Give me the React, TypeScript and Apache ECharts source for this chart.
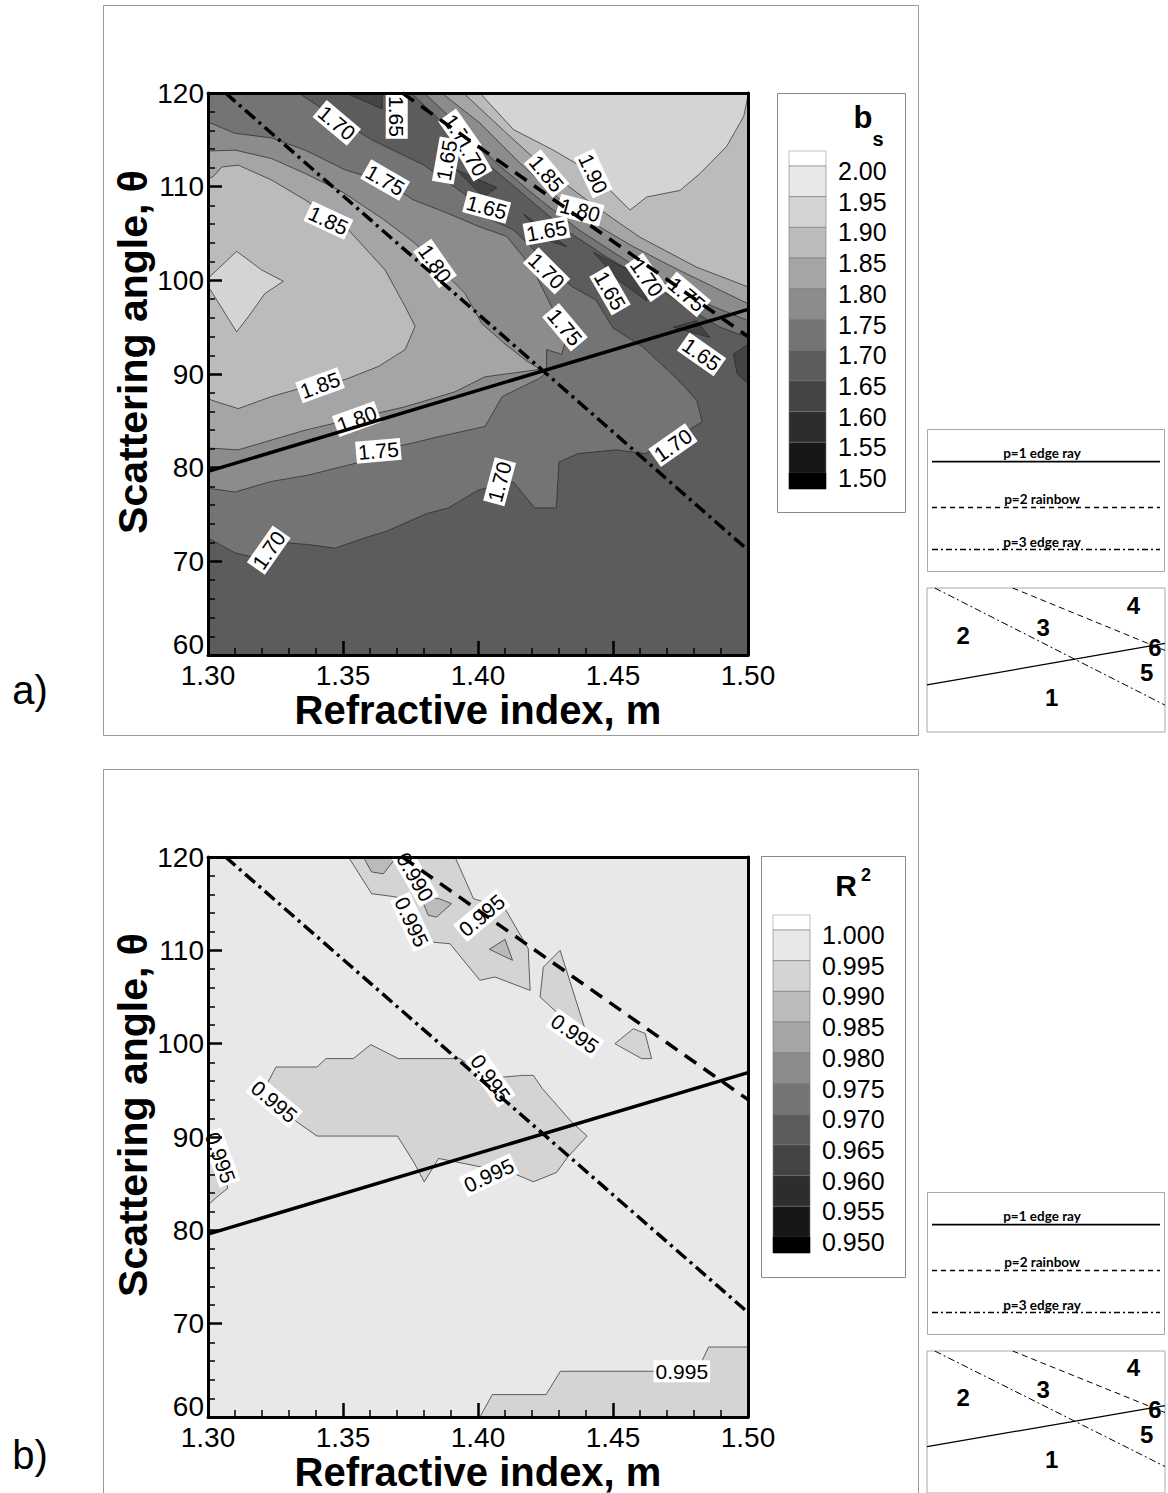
import React, { useEffect, useRef } from "react";
import * as echarts from "echarts";

const FONT = "'Liberation Sans', Arial, Helvetica, sans-serif";
const SMALLFONT = "Lato, 'Open Sans', 'Liberation Sans', sans-serif";

// ---------- legend levels and band colours ----------
const bsLevels = ["2.00", "1.95", "1.90", "1.85", "1.80", "1.75", "1.70", "1.65", "1.60", "1.55", "1.50"];
const r2Levels = ["1.000", "0.995", "0.990", "0.985", "0.980", "0.975", "0.970", "0.965", "0.960", "0.955", "0.950"];
const bandColors = ["#ffffff", "#e8e8e8", "#d4d4d4", "#bbbbbb", "#a5a5a5", "#8c8c8c", "#747474", "#5c5c5c", "#444444", "#2d2d2d", "#171717", "#000000"];

// ---------- characteristic lines (m, theta) ----------
const p1EdgeRay = [[1.30, 79.6], [1.50, 96.9]];
const p2Rainbow = [[1.372, 120], [1.50, 94.0]];
const p3EdgeRay = [[1.3065, 120], [1.50, 71.2]];

// ---------- panel a: b_s contour regions (m, theta) ----------
const bsBase = [[1.30, 60], [1.50, 60], [1.50, 120], [1.30, 120]]; // 1.65-1.70
const bsLeft170 = [[1.30, 120], [1.3335, 120], [1.3477, 117.3], [1.3606, 115], [1.38, 112.3], [1.3946, 109.3], [1.403, 106.7], [1.413, 105.4], [1.42, 103.5], [1.4254, 101.6], [1.435, 99.3], [1.4437, 97.9], [1.45, 94.9], [1.461, 92.9], [1.474, 89.4], [1.481, 87.2], [1.483, 84.9], [1.475, 83.5], [1.462, 81.5], [1.451, 81.9], [1.437, 81.5], [1.43, 80.6], [1.429, 75.7], [1.421, 75.7], [1.413, 78.5], [1.4, 77.6], [1.389, 75.7], [1.381, 75.1], [1.366, 73.2], [1.359, 72.6], [1.347, 71.4], [1.337, 71.8], [1.328, 72.0], [1.319, 70.3], [1.31, 70.9], [1.30, 72.5]];
const bsLeft175 = [[1.30, 116.9], [1.31, 115.7], [1.3236, 115.2], [1.336, 113.9], [1.3507, 111.8], [1.3656, 110.5], [1.376, 108.6], [1.3884, 107.2], [1.4007, 105.7], [1.4106, 104.7], [1.4168, 102.5], [1.4217, 100.4], [1.4279, 96.8], [1.4322, 95.1], [1.4328, 94.0], [1.431, 92.1], [1.4254, 92.6], [1.4254, 90.1], [1.4225, 89.5], [1.409, 87.6], [1.4026, 84.4], [1.3853, 83.3], [1.3754, 82.6], [1.3631, 81.9], [1.355, 80.5], [1.337, 79.2], [1.323, 78.5], [1.31, 77.4], [1.30, 77.8]];
const bsLeft180 = [[1.30, 113.8], [1.31, 113.9], [1.3236, 113.0], [1.336, 111.4], [1.35, 109.4], [1.365, 106.5], [1.3765, 104.0], [1.3841, 101.8], [1.3952, 98.6], [1.4014, 95.4], [1.41, 93.2], [1.418, 91.4], [1.423, 90.5], [1.4026, 89.7], [1.3915, 88.1], [1.373, 86.5], [1.3551, 85.3], [1.3359, 84.0], [1.3112, 81.9], [1.30, 82.1]];
const bsLeft185 = [[1.30, 110.8], [1.302, 111.1], [1.3051, 112.1], [1.3112, 112.3], [1.3236, 110.7], [1.3359, 108.6], [1.352, 105.4], [1.3656, 101.1], [1.373, 97.2], [1.3767, 95.1], [1.373, 92.6], [1.3631, 90.8], [1.3507, 89.4], [1.3359, 88.6], [1.3236, 87.6], [1.3112, 86.3], [1.3014, 87.2], [1.30, 87.4]];
const bsLeft190 = [[1.30, 100.2], [1.3106, 103.1], [1.3199, 101.1], [1.3279, 99.9], [1.3211, 98.6], [1.3149, 96.1], [1.3106, 94.5], [1.30, 99.4]];
const bsRight170 = [[1.3753, 120], [1.3884, 116.4], [1.4032, 112.5], [1.418, 108.9], [1.4328, 105.3], [1.4476, 102.5], [1.4625, 100.0], [1.4773, 97.1], [1.4896, 95.0], [1.50, 93.9], [1.50, 120]];
const bsRight175 = [[1.380, 120], [1.3946, 116.1], [1.4069, 112.5], [1.4217, 108.9], [1.4378, 105.3], [1.455, 102.1], [1.4699, 99.6], [1.4847, 97.5], [1.50, 95.7], [1.50, 120]];
const bsRight180 = [[1.3865, 120], [1.4007, 116.8], [1.4156, 112.5], [1.4304, 108.6], [1.4427, 106.1], [1.4575, 103.6], [1.4723, 101.4], [1.4872, 99.3], [1.50, 97.5], [1.50, 120]];
const bsRight185 = [[1.3946, 120], [1.4106, 115.7], [1.4254, 111.8], [1.4439, 107.8], [1.46, 104.6], [1.481, 101.4], [1.50, 99.3], [1.50, 120]];
const bsRight190 = [[1.4007, 120], [1.4131, 116.1], [1.4279, 113.9], [1.4427, 111.4], [1.4563, 107.5], [1.4625, 108.9], [1.4748, 109.6], [1.4822, 111.4], [1.4921, 114.3], [1.4984, 117.5], [1.50, 119.7], [1.50, 120]];
const bsPocket1 = [[1.351, 120], [1.3645, 120], [1.3645, 118.3]];
const bsPocket2 = [[1.392, 111.8], [1.407, 109.9], [1.402, 108.9]];
const bsPocket3 = [[1.4168, 107.1], [1.4328, 103.6], [1.4254, 104.3]];
const bsPocket4 = [[1.4427, 103.0], [1.4612, 100.3], [1.4625, 97.8], [1.452, 100.0]];
const bsPocket5 = [[1.4723, 95.0], [1.481, 95.7], [1.4859, 93.9]];
const bsPocket6 = [[1.4946, 92.1], [1.50, 93.2], [1.50, 89.0], [1.496, 90.0]];

// band index of each region (index into bandColors)
const bsRegions = [
  [bsBase, 7], [bsLeft170, 6], [bsLeft175, 5], [bsLeft180, 4], [bsLeft185, 3], [bsLeft190, 2],
  [bsRight170, 6], [bsRight175, 5], [bsRight180, 4], [bsRight185, 3], [bsRight190, 2],
  [bsPocket1, 8], [bsPocket2, 8], [bsPocket3, 8], [bsPocket4, 8], [bsPocket5, 8], [bsPocket6, 8],
];

// contour labels: m, theta, text, rotation
const bsLabels = [
  [1.3477, 116.8, "1.70", -40], [1.3699, 117.5, "1.65", -90], [1.3656, 110.7, "1.75", -30],
  [1.3446, 106.4, "1.85", -25], [1.3841, 101.8, "1.80", -55], [1.3415, 88.8, "1.85", 20],
  [1.3551, 85.2, "1.80", 20], [1.3631, 81.8, "1.75", 5], [1.3225, 71.2, "1.70", 55],
  [1.408, 78.5, "1.70", 75], [1.4722, 82.4, "1.70", 35], [1.4322, 95.0, "1.75", -50],
  [1.4254, 101.0, "1.70", -45], [1.4032, 107.8, "1.65", -15], [1.4254, 105.3, "1.65", 10],
  [1.4489, 98.9, "1.65", -60], [1.4828, 92.1, "1.65", -35], [1.3933, 115.7, "1.75", -55],
  [1.3977, 113.2, "1.70", -60], [1.3884, 112.8, "1.65", 80], [1.4254, 111.4, "1.85", -50],
  [1.4427, 111.4, "1.90", -65], [1.4378, 107.5, "1.80", -15], [1.4625, 100.3, "1.70", -55],
  [1.4773, 98.5, "1.75", -40],
];

// ---------- panel b: R^2 contour regions ----------
const r2Base = [[1.30, 60], [1.50, 60], [1.50, 120], [1.30, 120]]; // 0.995-1.000
const r2ClusterA = [[1.352, 120], [1.3606, 116.07], [1.3699, 115.71], [1.3797, 110.96], [1.3896, 110.71], [1.4007, 106.79], [1.4063, 107.14], [1.4193, 105.71], [1.4186, 110.18], [1.41, 114.46], [1.3983, 115.54], [1.3915, 120]];
const r2ClusterB = [[1.4242, 108.2], [1.4304, 110.0], [1.4396, 101.6], [1.4316, 102.7], [1.423, 105.0]];
const r2ClusterC = [[1.4507, 100.0], [1.4575, 101.6], [1.4619, 101.1], [1.4643, 98.4], [1.4606, 98.4]];
const r2Blob = [[1.3219, 95.7], [1.3252, 97.5], [1.3404, 97.5], [1.3437, 98.4], [1.3538, 98.4], [1.3603, 99.9], [1.3705, 98.4], [1.3933, 98.4], [1.4046, 96.3], [1.4166, 96.6], [1.4205, 96.6], [1.4238, 95.2], [1.4344, 91.7], [1.4404, 90.1], [1.4331, 87.8], [1.4291, 86.2], [1.4205, 85.2], [1.4132, 86.1], [1.3854, 87.7], [1.3801, 85.2], [1.3762, 87.3], [1.3702, 90.1], [1.3404, 90.1], [1.3325, 91.7]];
const r2LeftEdge = [[1.30, 90.3], [1.3025, 89.5], [1.306, 86.5], [1.3073, 84.5], [1.303, 83.5], [1.30, 82.7]];
const r2BottomRight = [[1.4007, 60], [1.4053, 62.4], [1.4252, 62.4], [1.4305, 64.9], [1.4656, 64.9], [1.4828, 65.9], [1.4854, 67.5], [1.50, 67.5], [1.50, 60]];
const r2PocketA = [[1.3575, 120], [1.3606, 118.4], [1.3649, 118.2], [1.3699, 120]];
const r2PocketB = [[1.3785, 115.9], [1.3816, 113.75], [1.3847, 113.57], [1.3902, 115.0], [1.3859, 115.5]];
const r2PocketC = [[1.4042, 110.11], [1.41, 111.18], [1.4128, 108.93]];

const r2Regions = [
  [r2Base, 1], [r2ClusterA, 2], [r2ClusterB, 2], [r2ClusterC, 2], [r2Blob, 2], [r2LeftEdge, 2],
  [r2BottomRight, 2], [r2PocketA, 3], [r2PocketB, 3], [r2PocketC, 3],
];

const r2Labels = [
  [1.3767, 117.86, "0.990", -60], [1.3754, 113.04, "0.995", -65], [1.4014, 113.75, "0.995", 40],
  [1.4359, 101.07, "0.995", -35], [1.4046, 96.3, "0.995", -55], [1.3245, 93.8, "0.995", -40],
  [1.3046, 87.8, "0.995", -70], [1.404, 85.9, "0.995", 25], [1.4755, 64.9, "0.995", 0],
];

// ---------- schematic region numbers ----------
const regionNumbers = [
  [1.4048, 74.2, "1"], [1.3305, 100.3, "2"], [1.3977, 103.6, "3"],
  [1.4734, 112.9, "4"], [1.4846, 84.9, "5"], [1.4916, 95.2, "6"],
];

const lineKeyTexts = ["p=1 edge ray", "p=2 rainbow", "p=3 edge ray"];

// ---------------------------------------------------------------
function polySeries(pts: number[][], color: string, axis: number, stroke: boolean) {
  return {
    type: "custom",
    xAxisIndex: axis,
    yAxisIndex: axis,
    clip: true,
    silent: true,
    z: 1,
    data: pts,
    renderItem: (params: any, api: any) => {
      if (params.dataIndex !== 0) return null;
      return {
        type: "polygon",
        shape: { points: pts.map((p) => api.coord(p)) },
        style: { fill: color, stroke: stroke ? "#262626" : null, lineWidth: 0.7 },
      };
    },
  };
}

function lineSeries(data: number[][], axis: number, width: number, type: any) {
  return {
    type: "line",
    xAxisIndex: axis,
    yAxisIndex: axis,
    data,
    symbol: "none",
    silent: true,
    z: 5,
    lineStyle: { color: "#000", width, type, cap: "butt" },
  };
}

function labelSeries(labels: any[], axis: number) {
  return {
    type: "scatter",
    xAxisIndex: axis,
    yAxisIndex: axis,
    symbolSize: 1,
    silent: true,
    z: 3,
    itemStyle: { color: "rgba(0,0,0,0)", opacity: 1 },
    data: labels.map((l) => ({ value: [l[0], l[1]], name: l[2], label: { rotate: l[3] } })),
    label: {
      show: true,
      position: "inside",
      formatter: "{b}",
      fontSize: 21,
      fontFamily: FONT,
      color: "#000",
      opacity: 1,
      backgroundColor: "#ffffff",
      padding: [1, 2, 0, 2],
    },
  };
}

function mainXAxes(grid: number) {
  return [
    {
      gridIndex: grid, type: "value", min: 1.3, max: 1.5, interval: 0.05, position: "bottom", z: 10,
      axisLine: { show: true, onZero: false, lineStyle: { color: "#000", width: 3 } },
      axisTick: { show: true, inside: true, length: 14, lineStyle: { color: "#000", width: 2.5 } },
      minorTick: { show: true, splitNumber: 5, length: 7, lineStyle: { color: "#000", width: 1.5 } },
      splitLine: { show: false },
      axisLabel: { fontSize: 28, fontFamily: FONT, color: "#000", margin: 6, formatter: (v: number) => v.toFixed(2) },
      name: "Refractive index, m", nameLocation: "middle", nameGap: 32,
      nameTextStyle: { fontSize: 40, fontWeight: "bold", fontFamily: FONT, color: "#000" },
    },
    {
      gridIndex: grid, type: "value", min: 1.3, max: 1.5, position: "top", z: 10,
      axisLine: { show: true, onZero: false, lineStyle: { color: "#000", width: 3 } },
      axisTick: { show: false }, axisLabel: { show: false }, splitLine: { show: false },
    },
  ];
}

function mainYAxes(grid: number) {
  return [
    {
      gridIndex: grid, type: "value", min: 60, max: 120, interval: 10, position: "left", z: 10,
      axisLine: { show: true, onZero: false, lineStyle: { color: "#000", width: 3 } },
      axisTick: { show: true, inside: true, length: 14, lineStyle: { color: "#000", width: 2.5 } },
      minorTick: { show: true, splitNumber: 5, length: 7, lineStyle: { color: "#000", width: 1.5 } },
      splitLine: { show: false },
      axisLabel: {
        fontSize: 28, fontFamily: FONT, color: "#000", margin: 4,
        formatter: (v: number) => (v === 60 ? "{lo|60}" : String(v)),
        rich: { lo: { fontSize: 28, fontFamily: FONT, color: "#000", padding: [0, 0, 22, 0] } },
      },
      name: "Scattering angle, \u03b8", nameLocation: "middle", nameGap: 52,
      nameTextStyle: { fontSize: 41, fontWeight: "bold", fontFamily: FONT, color: "#000", padding: [0, 0, 0, 44] },
    },
    {
      gridIndex: grid, type: "value", min: 60, max: 120, position: "right", z: 10,
      axisLine: { show: true, onZero: false, lineStyle: { color: "#000", width: 3 } },
      axisTick: { show: false }, axisLabel: { show: false }, splitLine: { show: false },
    },
  ];
}

function hiddenX(grid: number) {
  return { gridIndex: grid, type: "value", min: 1.3, max: 1.5, show: false, splitLine: { show: false } };
}
function hiddenY(grid: number) {
  return { gridIndex: grid, type: "value", min: 60, max: 120, show: false, splitLine: { show: false } };
}

function colorLegend(boxX: number, boxY: number, boxW: number, boxH: number, swX: number, firstB: number, labelX: number, levels: string[]) {
  const els: any[] = [];
  const step = 30.7;
  els.push({ type: "rect", shape: { x: boxX + 0.5, y: boxY + 0.5, width: boxW, height: boxH }, style: { fill: "#fff", stroke: "#8a8a8a", lineWidth: 1 } });
  els.push({ type: "rect", shape: { x: swX, y: firstB - 15, width: 37, height: 15 }, style: { fill: bandColors[0], stroke: "#999", lineWidth: 0.6 } });
  for (let i = 0; i < 10; i++) {
    els.push({ type: "rect", shape: { x: swX, y: firstB + i * step, width: 37, height: step }, style: { fill: bandColors[i + 1], stroke: "#777", lineWidth: 0.6 } });
  }
  els.push({ type: "rect", shape: { x: swX, y: firstB + 10 * step, width: 37, height: 16 }, style: { fill: bandColors[11], stroke: "#000", lineWidth: 0.6 } });
  levels.forEach((t, k) => {
    els.push({ type: "text", x: labelX, y: firstB + k * step + 5, style: { text: t, font: `25px ${FONT}`, fill: "#000", align: "left", verticalAlign: "middle" } });
  });
  return els;
}

function lineKey(y0: number) {
  const els: any[] = [];
  els.push({ type: "rect", shape: { x: 927.5, y: y0 + 0.5, width: 237, height: 142 }, style: { fill: "#fff", stroke: "#a8a8a8", lineWidth: 1 } });
  const textY = [24, 69.5, 112.5];
  const lineY = [32.7, 78.5, 120.5];
  const dashes: any[] = [null, [5, 4], [6, 3, 2, 3]];
  for (let i = 0; i < 3; i++) {
    els.push({ type: "text", x: 1042, y: y0 + textY[i], style: { text: lineKeyTexts[i], font: `bold 13.5px ${SMALLFONT}`, fill: "#000", align: "center", verticalAlign: "middle" } });
    els.push({ type: "line", shape: { x1: 932, y1: y0 + lineY[i], x2: 1160, y2: y0 + lineY[i] }, style: { stroke: "#000", lineWidth: i === 0 ? 1.8 : 1.4, lineDash: dashes[i] } });
  }
  return els;
}

function buildOption() {
  const series: any[] = [];
  bsRegions.forEach((r: any) => series.push(polySeries(r[0], bandColors[r[1]], 0, r[0] !== bsBase)));
  series.push(labelSeries(bsLabels, 0));
  series.push(lineSeries(p1EdgeRay, 0, 3.5, "solid"));
  series.push(lineSeries(p2Rainbow, 0, 3.5, [14, 9]));
  series.push(lineSeries(p3EdgeRay, 0, 3.5, [13, 5, 3, 5]));

  r2Regions.forEach((r: any) => series.push(polySeries(r[0], bandColors[r[1]], 2, r[0] !== r2Base)));
  series.push(labelSeries(r2Labels, 2));
  series.push(lineSeries(p1EdgeRay, 2, 3.5, "solid"));
  series.push(lineSeries(p2Rainbow, 2, 3.5, [14, 9]));
  series.push(lineSeries(p3EdgeRay, 2, 3.5, [13, 5, 3, 5]));

  [4, 5].forEach((ax) => {
    series.push(lineSeries(p1EdgeRay, ax, 1.3, "solid"));
    series.push(lineSeries(p2Rainbow, ax, 1, [6, 4]));
    series.push(lineSeries(p3EdgeRay, ax, 1, [7, 3, 2, 3]));
    series.push({
      type: "scatter", xAxisIndex: ax, yAxisIndex: ax, symbolSize: 1, silent: true, z: 6,
      itemStyle: { color: "rgba(0,0,0,0)", opacity: 1 },
      data: regionNumbers.map((n) => ({ value: [n[0], n[1]], name: n[2] })),
      label: { show: true, position: "inside", formatter: "{b}", fontSize: 24, fontWeight: "bold", fontFamily: FONT, color: "#000", opacity: 1 },
    });
  });

  const graphics: any[] = [
    { type: "rect", shape: { x: 103.5, y: 5.5, width: 815, height: 730 }, style: { fill: "none", stroke: "#9a9a9a", lineWidth: 1 } },
    { type: "rect", shape: { x: 103.5, y: 769.5, width: 815, height: 730 }, style: { fill: "none", stroke: "#9a9a9a", lineWidth: 1 } },
    { type: "text", x: 30, y: 690, style: { text: "a)", font: `40px ${FONT}`, fill: "#000", align: "center", verticalAlign: "middle" } },
    { type: "text", x: 30, y: 1455, style: { text: "b)", font: `40px ${FONT}`, fill: "#000", align: "center", verticalAlign: "middle" } },
    ...colorLegend(777, 93, 128, 419, 789, 166, 838, bsLevels),
    { type: "text", x: 863, y: 117, style: { text: "b", font: `bold 31px ${FONT}`, fill: "#000", align: "center", verticalAlign: "middle" } },
    { type: "text", x: 878, y: 139, style: { text: "s", font: `bold 20px ${FONT}`, fill: "#000", align: "center", verticalAlign: "middle" } },
    ...colorLegend(761, 856, 144, 421, 773, 930, 822, r2Levels),
    { type: "text", x: 846, y: 885, style: { text: "R", font: `bold 30px ${FONT}`, fill: "#000", align: "center", verticalAlign: "middle" } },
    { type: "text", x: 866, y: 875, style: { text: "2", font: `bold 18px ${FONT}`, fill: "#000", align: "center", verticalAlign: "middle" } },
    ...lineKey(429),
    ...lineKey(1192),
  ];

  return {
    animation: false,
    backgroundColor: "#fff",
    textStyle: { fontFamily: FONT },
    grid: [
      { left: 208, top: 93, width: 540, height: 562 },
      { left: 208, top: 857, width: 540, height: 560 },
      { left: 927, top: 588, width: 238, height: 144, show: true, backgroundColor: "#fff", borderColor: "#a8a8a8", borderWidth: 1 },
      { left: 927, top: 1351, width: 238, height: 144, show: true, backgroundColor: "#fff", borderColor: "#a8a8a8", borderWidth: 1 },
    ],
    xAxis: [...mainXAxes(0), ...mainXAxes(1), hiddenX(2), hiddenX(3)],
    yAxis: [...mainYAxes(0), ...mainYAxes(1), hiddenY(2), hiddenY(3)],
    series,
    graphic: { elements: graphics },
  };
}

export default function App() {
  const ref = useRef<HTMLDivElement>(null);
  useEffect(() => {
    const chart = echarts.init(ref.current as HTMLDivElement, null, { renderer: "svg" });
    chart.setOption(buildOption() as any);
    return () => chart.dispose();
  }, []);
  return (
    <div
      ref={ref}
      style={{ position: "absolute", left: 0, top: 0, width: 1168, height: 1493, background: "#fff" }}
    />
  );
}
